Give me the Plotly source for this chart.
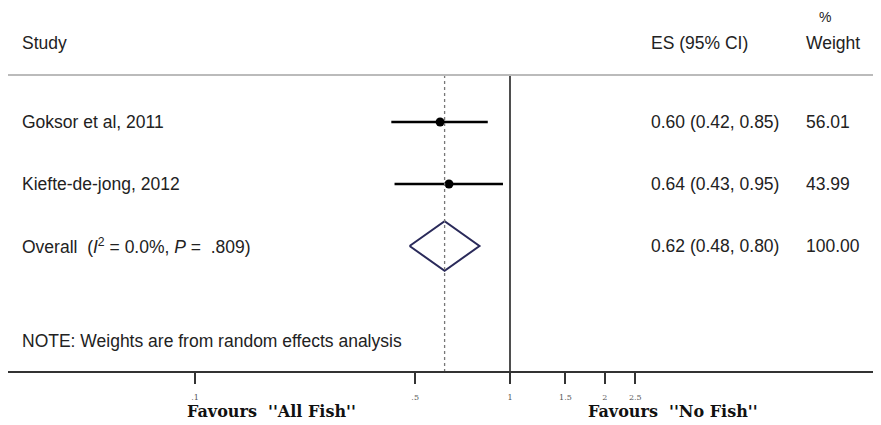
import plotly.graph_objects as go

# ---- data ----
studies = ["Goksor et al, 2011", "Kiefte-de-jong, 2012"]
es = [0.60, 0.64]
ci_low = [0.42, 0.43]
ci_high = [0.85, 0.95]
weights = [56.01, 43.99]

overall_label = "Overall  (<i>I</i><sup>2</sup> = 0.0%, <i>P</i> =  .809)"
overall_es = 0.62
overall_low = 0.48
overall_high = 0.80
overall_weight = 100.00

tick_vals = [0.1, 0.5, 1, 1.5, 2, 2.5]
tick_text = [".1", ".5", "1", "1.5", "2", "2.5"]
note = "NOTE: Weights are from random effects analysis"
left_label = "Favours  ''All Fish''"
right_label = "Favours  ''No Fish''"

# page body has an 8px margin; work in reference-window pixels and convert
OFF = 8
WIN_W, WIN_H = 881, 425
W, H = WIN_W - OFF, WIN_H - OFF
TOP, BOTTOM = 75, 371          # plot area in window pixels
PX_PER_DEC = 315.0
X_ONE = 510.0
xr = [(OFF - X_ONE) / PX_PER_DEC, (WIN_W - X_ONE) / PX_PER_DEC]

def px(xw):          # window x pixel -> paper x
    return (xw - OFF) / W

def py(yw):          # window y pixel -> paper y
    return (BOTTOM - yw) / (BOTTOM - TOP)

# rows in data units: window y = 60 + 62*row
def row_of(yw):
    return (yw - 60) / 62.0

y_top = row_of(TOP)
y_bot = row_of(BOTTOM)

fig = go.Figure()

sans = "Liberation Sans, Arial, Helvetica, sans-serif"
serif = "DejaVu Serif, Liberation Serif, serif"
TXT = "#222222"
FS = 17.5

for i, s in enumerate(studies):
    r = i + 1
    fig.add_trace(go.Scatter(x=[ci_low[i], ci_high[i]], y=[r, r], mode="lines",
                             line=dict(color="black", width=2.4), hoverinfo="skip"))
    fig.add_trace(go.Scatter(x=[es[i]], y=[r], mode="markers",
                             marker=dict(color="black", size=9, symbol="circle")))

r = 3
hh = 0.4
fig.add_trace(go.Scatter(x=[overall_low, overall_es, overall_high, overall_es, overall_low],
                         y=[r, r - hh, r, r + hh, r], mode="lines",
                         line=dict(color="#2a2a5a", width=2)))

fig.add_trace(go.Scatter(x=[1, 1], y=[y_top, y_bot], mode="lines",
                         line=dict(color="#222222", width=1.6)))
fig.add_trace(go.Scatter(x=[overall_es, overall_es], y=[y_top, y_bot], mode="lines",
                         line=dict(color="#777777", width=1.3, dash="3px,3px")))

ann = []
def txt(xw, yw, t, size=FS, anchor="left", font=sans, color=TXT):
    ann.append(dict(x=px(xw), y=py(yw), xref="paper", yref="paper", text=t, showarrow=False,
                    xanchor=anchor, yanchor="middle",
                    font=dict(family=font, size=size, color=color)))

XL, XES, XWT = 20, 649, 804
# header
txt(XL, 43, "Study")
txt(XES, 43, "ES (95% CI)")
txt(XWT, 43, "Weight")
txt(825, 17, "%", anchor="center", size=14)

ROWS_Y = [122, 184]
for i, s in enumerate(studies):
    txt(XL, ROWS_Y[i], s)
    txt(XES, ROWS_Y[i], f"{es[i]:.2f} ({ci_low[i]:.2f}, {ci_high[i]:.2f})")
    txt(XWT, ROWS_Y[i], f"{weights[i]:.2f}")

txt(XL, 246, overall_label)
txt(XES, 246, f"{overall_es:.2f} ({overall_low:.2f}, {overall_high:.2f})")
txt(XWT, 246, f"{overall_weight:.2f}")
txt(XL, 341, note)

txt(185, 411, f"<b>{left_label}</b>", size=16, font=serif, color="#111111")
txt(586, 411, f"<b>{right_label}</b>", size=16, font=serif, color="#111111")

shapes = [dict(type="line", xref="paper", yref="paper", x0=0, x1=1, y0=1, y1=1,
               line=dict(color="#bbbbbb", width=2))]

fig.update_layout(
    width=W, height=H,
    margin=dict(l=0, r=0, t=TOP - OFF, b=WIN_H - BOTTOM, pad=0),
    paper_bgcolor="white", plot_bgcolor="white",
    annotations=ann, shapes=shapes,
    xaxis=dict(type="log", range=xr, domain=[0, 1], showgrid=False, zeroline=False,
               showline=True, linecolor="#333333", linewidth=2,
               tickmode="array", tickvals=tick_vals, ticktext=tick_text,
               ticks="outside", ticklen=11, tickwidth=2, tickcolor="#333333",
               ticklabelstandoff=6,
               tickfont=dict(family=serif, size=8, color="#555555")),
    yaxis=dict(range=[y_bot, y_top], showgrid=False, zeroline=False, showticklabels=False,
               showline=False, fixedrange=True),
    showlegend=False,
)

fig.write_html("out.html")
